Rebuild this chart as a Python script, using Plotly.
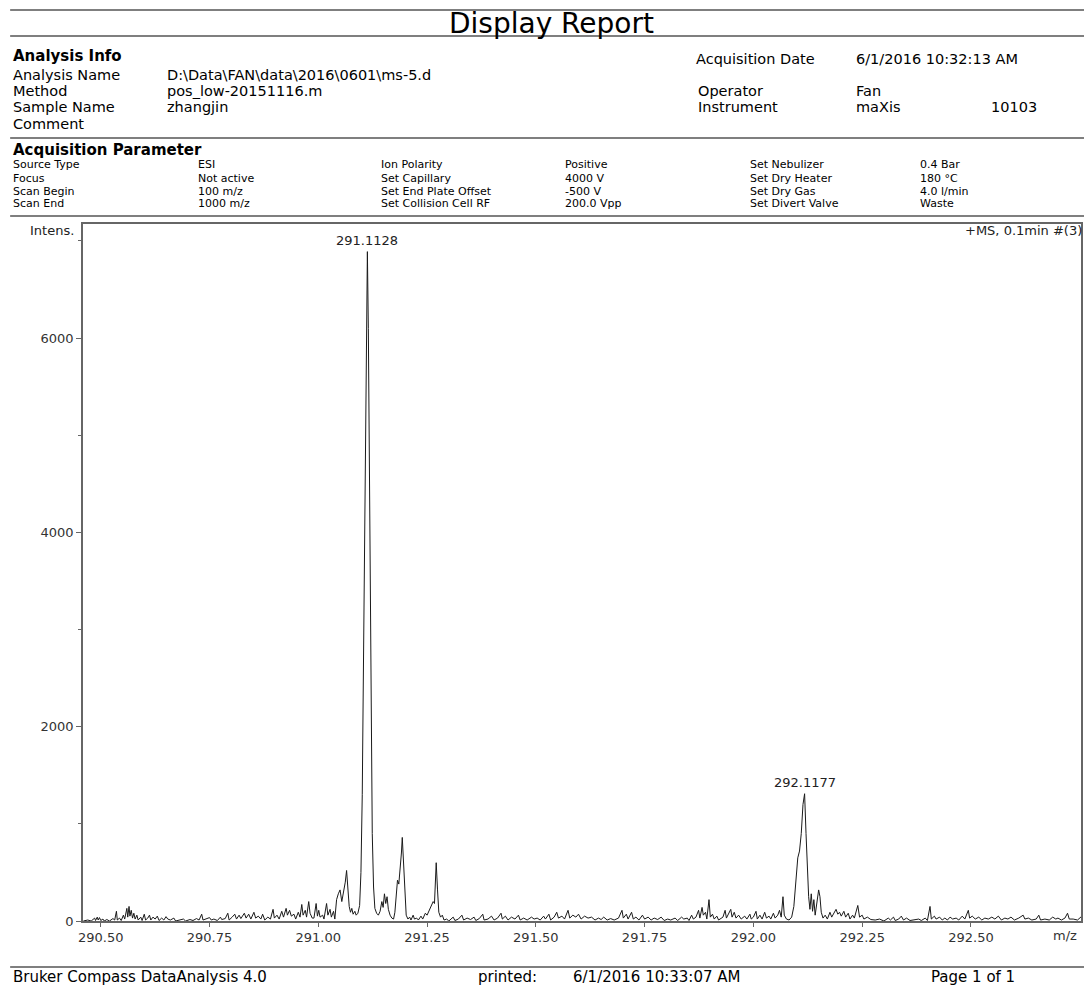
import plotly.graph_objects as go

# ---------------------------------------------------------------- spectrum data
mz = [
    290.460, 290.470, 290.478, 290.486, 290.488, 290.492, 290.494, 290.497, 290.500, 290.505,
    290.508, 290.514, 290.520, 290.528, 290.532, 290.536, 290.538, 290.543, 290.547, 290.552,
    290.555, 290.560, 290.562, 290.565, 290.567, 290.570, 290.573, 290.576, 290.579, 290.583,
    290.586, 290.592, 290.595, 290.600, 290.603, 290.608, 290.612, 290.615, 290.620, 290.625,
    290.630, 290.634, 290.640, 290.645, 290.650, 290.654, 290.660, 290.668, 290.672, 290.680,
    290.690, 290.695, 290.705, 290.712, 290.720, 290.726, 290.732, 290.735, 290.742, 290.750,
    290.754, 290.760, 290.768, 290.775, 290.778, 290.786, 290.792, 290.795, 290.802, 290.808,
    290.812, 290.818, 290.822, 290.830, 290.834, 290.840, 290.845, 290.852, 290.856, 290.862,
    290.868, 290.872, 290.877, 290.884, 290.890, 290.896, 290.899, 290.905, 290.910, 290.916,
    290.920, 290.926, 290.929, 290.934, 290.938, 290.944, 290.948, 290.954, 290.958, 290.962,
    290.965, 290.970, 290.973, 290.978, 290.981, 290.986,
    290.990, 290.995, 290.998, 291.001, 291.004, 291.010, 291.013, 291.019, 291.022, 291.027,
    291.030, 291.035, 291.038, 291.042, 291.046, 291.050, 291.054, 291.058, 291.062, 291.065,
    291.068, 291.071, 291.074, 291.077, 291.080, 291.084, 291.087, 291.091, 291.095, 291.098,
    291.101, 291.104, 291.107, 291.110, 291.1128, 291.115, 291.118, 291.121, 291.124, 291.127,
    291.130, 291.134, 291.138, 291.142, 291.146, 291.149, 291.152, 291.155, 291.158, 291.161,
    291.165, 291.169, 291.173, 291.176, 291.179, 291.182, 291.185, 291.188, 291.191, 291.193,
    291.196, 291.199, 291.202, 291.206, 291.210, 291.213, 291.218, 291.221, 291.226, 291.230,
    291.236, 291.240, 291.246, 291.250, 291.255, 291.260, 291.264, 291.267, 291.271, 291.274,
    291.277, 291.281, 291.285, 291.289, 291.295,
    291.300, 291.310, 291.314, 291.322, 291.330, 291.334, 291.342, 291.350, 291.358, 291.362,
    291.370, 291.378, 291.381, 291.390, 291.398, 291.404, 291.412, 291.420, 291.423, 291.430,
    291.436, 291.444, 291.452, 291.460, 291.464, 291.472, 291.480, 291.490, 291.496, 291.503,
    291.510, 291.518, 291.522, 291.530, 291.534, 291.542, 291.548, 291.552, 291.560, 291.566,
    291.574, 291.578, 291.585, 291.592, 291.598, 291.604, 291.612, 291.620, 291.628, 291.636,
    291.644, 291.650, 291.656, 291.664, 291.672, 291.680, 291.690, 291.698, 291.701, 291.708,
    291.712, 291.720, 291.724, 291.730, 291.737, 291.745, 291.750, 291.758, 291.765, 291.772,
    291.780, 291.788, 291.795, 291.803, 291.810, 291.820, 291.826, 291.835, 291.840, 291.848,
    291.852, 291.858, 291.862, 291.868, 291.874, 291.877, 291.882, 291.885, 291.890, 291.893,
    291.898, 291.901, 291.906, 291.910, 291.916, 291.920, 291.930, 291.935, 291.938, 291.944,
    291.948, 291.951, 291.956, 291.960, 291.966, 291.972, 291.980, 291.985, 291.992, 291.995,
    292.000, 292.006, 292.009, 292.015, 292.020, 292.026, 292.030, 292.036, 292.040, 292.046,
    292.050, 292.056, 292.060, 292.064, 292.068, 292.071, 292.076, 292.082, 292.088, 292.093,
    292.098, 292.102, 292.106, 292.110, 292.114, 292.1177, 292.121, 292.124, 292.127, 292.130,
    292.133, 292.136, 292.139, 292.142, 292.146, 292.150, 292.153, 292.156, 292.160, 292.165,
    292.170, 292.176, 292.180, 292.186, 292.190, 292.194, 292.198, 292.202, 292.208, 292.212,
    292.218, 292.222, 292.228, 292.232, 292.240, 292.244, 292.250, 292.254, 292.262, 292.270,
    292.280, 292.290, 292.300, 292.310, 292.315, 292.322, 292.326, 292.334, 292.340, 292.345,
    292.352, 292.360, 292.370, 292.380, 292.386, 292.395, 292.400, 292.406, 292.409, 292.416,
    292.420, 292.428, 292.434, 292.440, 292.446, 292.452, 292.458, 292.466, 292.472, 292.480,
    292.486, 292.494, 292.497, 292.503, 292.510, 292.518, 292.525, 292.532, 292.540, 292.548,
    292.555, 292.563, 292.570, 292.578, 292.585, 292.592, 292.600, 292.610, 292.620, 292.624,
    292.632, 292.640, 292.650, 292.656, 292.660, 292.670, 292.680, 292.688, 292.695, 292.700,
    292.708, 292.716, 292.722, 292.726, 292.735, 292.745, 292.755, 292.760,
]
intensity = [
    0, 10, 0, 30, 5, 40, 10, 35, 5, 20,
    0, 15, 0, 25, 10, 100, 10, 30, 5, 60,
    20, 130, 40, 150, 50, 110, 30, 80, 20, 60,
    10, 40, 5, 70, 10, 30, 60, 10, 40, 20,
    50, 5, 30, 10, 45, 20, 10, 30, 0, 10,
    20, 0, 15, 5, 25, 10, 70, 10, 20, 35,
    10, 20, 5, 40, 15, 25, 80, 10, 40, 70,
    20, 60, 25, 80, 30, 70, 20, 90, 30, 50,
    20, 70, 10, 40, 20, 120, 30, 60, 20, 100,
    40, 130, 60, 110, 50, 70, 20, 90, 40, 170,
    60, 110, 40, 200, 80, 30,
    30, 180, 50, 110, 40, 60, 20, 180, 60, 120,
    40, 100, 20, 220, 280, 320, 200, 300, 400, 520,
    280, 150, 90, 130, 70, 100, 60, 80, 160, 500,
    1300, 2800, 4600, 6300, 6890, 6100, 4200, 2200, 900, 350,
    130, 80, 60, 100, 200, 140, 280, 180, 250, 120,
    60, 30, 20, 90, 250, 420, 380, 520, 700, 860,
    550, 200, 60, 20, 40, 10, 60, 20, 30, 10,
    50, 20, 80, 60, 110, 150, 200, 180, 600, 320,
    90, 40, 60, 10, 20,
    0, 40, 5, 20, 60, 10, 30, 15, 40, 5,
    25, 70, 10, 20, 50, 10, 30, 80, 20, 50,
    10, 40, 20, 60, 10, 30, 10, 40, 20, 30,
    10, 50, 20, 70, 10, 40, 90, 30, 50, 20,
    110, 30, 60, 40, 70, 20, 50, 30, 40, 10,
    30, 15, 40, 10, 25, 10, 30, 110, 30, 70,
    20, 90, 20, 40, 10, 60, 20, 40, 10, 30,
    15, 40, 5, 20, 10, 30, 5, 40, 20, 30,
    5, 60, 20, 40, 110, 30, 140, 60, 90, 20,
    220, 40, 70, 20, 50, 10, 40, 110, 30, 80,
    120, 40, 90, 30, 60, 20, 50, 20, 70, 20,
    40, 100, 20, 60, 20, 90, 30, 50, 20, 80,
    30, 60, 110, 40, 250, 60, 20, 10, 40, 150,
    400, 650, 720, 900, 1200, 1310, 900, 450, 250, 120,
    280, 100, 220, 60, 180, 320, 250, 90, 30, 60,
    20, 90, 40, 80, 120, 70, 90, 50, 100, 40,
    80, 20, 60, 30, 160, 40, 60, 20, 40, 15,
    10, 20, 0, 30, 10, 40, 5, 20, 50, 10,
    30, 5, 10, 20, 5, 30, 5, 150, 20, 50,
    20, 40, 10, 30, 10, 40, 20, 30, 10, 50,
    20, 110, 30, 50, 20, 40, 10, 30, 20, 40,
    20, 50, 10, 30, 20, 40, 10, 30, 60, 20,
    30, 10, 20, 60, 10, 20, 10, 40, 20, 30,
    10, 30, 80, 20, 20, 10, 50, 0,
]

peak_mz = [291.1128, 292.1177]
peak_int = [6890, 1310]
peak_labels = ["291.1128", "292.1177"]

x_tick_vals = [290.50, 290.75, 291.00, 291.25, 291.50, 291.75, 292.00, 292.25, 292.50]
x_tick_text = ["290.50", "290.75", "291.00", "291.25", "291.50", "291.75", "292.00", "292.25", "292.50"]
y_tick_vals = [0, 2000, 4000, 6000]
y_minor_vals = [1000, 3000, 5000, 7000]

# ---------------------------------------------------------------- page geometry
W, H = 1086, 986
L, R, T, B = 83, 1083, 224, 921      # plot box, page pixels
FONT = "DejaVu Sans"


def px(x):
    return (x - L) / (R - L)


def py(y):
    return (B - y) / (B - T)


fig = go.Figure()
fig.add_trace(go.Scatter(
    x=mz, y=intensity, mode="lines",
    line=dict(color="#1a1a1a", width=1),
    hoverinfo="skip", showlegend=False,
))

annotations = []


def text(x, y, s, size=14, bold=False, anchor="left", color="#000"):
    annotations.append(dict(
        x=px(x), y=py(y), xref="paper", yref="paper",
        text=f"<b>{s}</b>" if bold else s,
        showarrow=False, xanchor=anchor, yanchor="middle", borderpad=0,
        font=dict(family=FONT, size=size, color=color),
    ))


shapes = []


def hline(y, x0=10, x1=1086, color="#555", width=1.5):
    shapes.append(dict(type="line", xref="paper", yref="paper",
                       x0=px(x0), x1=px(x1), y0=py(y), y1=py(y),
                       line=dict(color=color, width=width)))


# header
hline(10)
hline(36)
text(552, 23, "Display Report", size=28, anchor="center")

text(12, 56, "Analysis Info", size=15, bold=True)
info_labels = ["Analysis Name", "Method", "Sample Name", "Comment"]
info_values = [r"D:\Data\FAN\data\2016\0601\ms-5.d", "pos_low-20151116.m", "zhangjin", ""]
info_rows = [75, 91, 107, 124]
for lab, val, y in zip(info_labels, info_values, info_rows):
    text(12, y, lab, size=14.5)
    if val:
        text(166, y, val, size=14.5)

text(696, 59, "Acquisition Date", size=14.5)
text(857, 59, "6/1/2016 10:32:13 AM", size=14.5)
text(698, 91, "Operator", size=14.5)
text(857, 91, "Fan", size=14.5)
text(698, 107, "Instrument", size=14.5)
text(857, 107, "maXis", size=14.5)
text(992, 107, "10103", size=14.5)
hline(138)

# acquisition parameters
text(12, 150, "Acquisition Parameter", size=15, bold=True)
param_cols = [12, 197, 381, 565, 750, 921]
param_rows = [165, 178, 191, 204]
param_table = [
    ["Source Type", "ESI", "Ion Polarity", "Positive", "Set Nebulizer", "0.4 Bar"],
    ["Focus", "Not active", "Set Capillary", "4000 V", "Set Dry Heater", "180 °C"],
    ["Scan Begin", "100 m/z", "Set End Plate Offset", "-500 V", "Set Dry Gas", "4.0 l/min"],
    ["Scan End", "1000 m/z", "Set Collision Cell RF", "200.0 Vpp", "Set Divert Valve", "Waste"],
]
for row, y in zip(param_table, param_rows):
    for cell, x in zip(row, param_cols):
        text(x, y, cell, size=11)
hline(216)

# plot captions
text(75, 230, "Intens.", size=13, anchor="right", color="#222")
text(1085, 230, "+MS, 0.1min #(3)", size=13, anchor="right", color="#222")
text(1080, 935, "m/z", size=13, anchor="right", color="#333")

# peak labels
for m, i, lab in zip(peak_mz, peak_int, peak_labels):
    annotations.append(dict(
        x=m, y=i, xref="x", yref="y", text=lab, showarrow=False,
        xanchor="center", yanchor="bottom", yshift=2,
        font=dict(family=FONT, size=13, color="#222"),
    ))

# footer
hline(967)
text(12, 977, "Bruker Compass DataAnalysis 4.0", size=15)
text(478, 977, "printed:", size=15)
text(573, 977, "6/1/2016 10:33:07 AM", size=15)
text(932, 977, "Page 1 of 1", size=15)

x0 = 290.50 - (100.8 - L) / 436.0
x1 = 292.50 + (R - 972.7) / 436.0
y1 = (B - T) * 2000 / 194.3

axis_line = dict(showline=True, linecolor="#666", linewidth=1.5, mirror=True,
                 showgrid=False, zeroline=False)

fig.update_layout(
    width=W, height=H, autosize=False,
    margin=dict(l=L, r=W - R, t=T, b=H - B, pad=0),
    paper_bgcolor="white", plot_bgcolor="white",
    showlegend=False,
    xaxis=dict(range=[x0, x1], tickmode="array", tickvals=x_tick_vals, ticktext=x_tick_text,
               ticks="outside", ticklen=4, tickcolor="#666",
               tickfont=dict(family=FONT, size=13, color="#333"), **axis_line),
    yaxis=dict(range=[0, y1], tickmode="array", tickvals=y_tick_vals,
               ticks="outside", ticklen=5, tickcolor="#666",
               minor=dict(tickmode="array", tickvals=y_minor_vals, ticks="outside",
                          ticklen=3, tickcolor="#666"),
               tickfont=dict(family=FONT, size=13, color="#333"), **axis_line),
    annotations=annotations,
    shapes=shapes,
)

fig.write_html("out.html")
